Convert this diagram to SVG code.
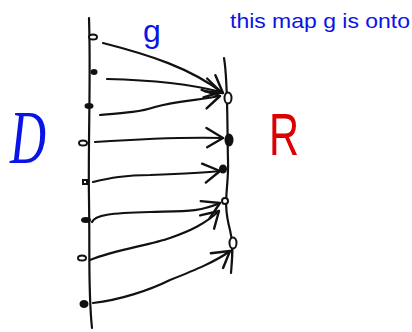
<svg xmlns="http://www.w3.org/2000/svg" width="412" height="332" viewBox="0 0 412 332">
<style>
.ink{fill:none;stroke:#111;stroke-width:2.2;stroke-linecap:round;stroke-linejoin:round}
.arr{fill:none;stroke:#111;stroke-width:2.2;stroke-linecap:round;stroke-linejoin:round;marker-end:url(#ah)}
.dot{stroke:#111;stroke-width:2}
.o{fill:#fff}
.f{fill:#111}
.blue{fill:#0a14e6;font-family:"Liberation Sans",sans-serif}
</style>
<defs>
<marker id="ah" markerUnits="userSpaceOnUse" markerWidth="24" markerHeight="24" refX="16" refY="9" orient="auto" viewBox="0 0 20 18">
<path d="M2,1 L16,9 L3,17" fill="none" stroke="#111" stroke-width="2" stroke-linecap="round" stroke-linejoin="round"/>
</marker>
</defs>
<rect width="412" height="332" fill="#fff"/>
<g id="domain">
<path class="ink" d="M89,18 C91,80 88,140 89,200 C90,260 88,290 92,328"/>
</g>
<g id="range">
<path class="ink" d="M224,58 C228,80 227,120 228,160 C229,190 222,200 230,230 C234,245 232,260 231,273"/>
</g>
<g id="connectors">
<path class="arr" d="M103,43 C150,55 190,68 223,93"/>
<path class="arr" d="M107,79 C150,80 190,84 221,92"/>
<path class="arr" d="M100,115 C125,113 140,112 155,107 C175,101 200,100 220,96"/>
<path class="arr" d="M95,142 C140,139 185,137 223,138"/>
<path class="arr" d="M93,182 C110,178 125,175 150,175 C180,174 205,173 220,171"/>
<path class="arr" d="M92,222 C95,215 110,213 150,212 C185,211 200,212 220,203"/>
<path class="arr" d="M90,260 C115,250 150,245 170,238 C190,231 205,224 219,211"/>
<path class="arr" d="M93,303 C120,300 150,290 170,280 C195,270 215,262 230,251"/>
</g>
<g id="d1"><ellipse class="dot o" cx="93" cy="37" rx="4" ry="2.5"/></g>
<g id="d2"><ellipse class="dot f" cx="94" cy="72" rx="2.5" ry="2"/></g>
<g id="d3"><ellipse class="dot f" cx="89" cy="106" rx="3.5" ry="2"/></g>
<g id="d4"><ellipse class="dot o" cx="83" cy="143" rx="4" ry="2.5"/></g>
<g id="d5"><rect class="dot o" x="83" y="180" width="4" height="4"/></g>
<g id="d6"><ellipse class="dot f" cx="86" cy="220" rx="4" ry="2"/></g>
<g id="d7"><ellipse class="dot o" cx="82" cy="258" rx="4" ry="2.5"/></g>
<g id="d8"><ellipse class="dot f" cx="84" cy="304" rx="3.5" ry="3"/></g>
<g id="r1"><ellipse class="dot o" cx="228" cy="98" rx="3.5" ry="5.5"/></g>
<g id="r2"><ellipse class="dot f" cx="229" cy="140" rx="3.5" ry="5.5"/></g>
<g id="r3"><ellipse class="dot f" cx="223" cy="169" rx="3" ry="3.5"/></g>
<g id="r4"><circle class="dot o" cx="225" cy="201" r="3"/></g>
<g id="r5"><ellipse class="dot o" cx="233" cy="243" rx="3.5" ry="5.5"/></g>
<g id="labels">
<text class="blue" x="143" y="42" font-size="32">g</text>
<text class="blue" x="230" y="28" font-size="21" textLength="180" lengthAdjust="spacingAndGlyphs">this map g is onto</text>
<text x="10" y="163" font-size="76" font-style="italic" fill="#0a14e6" font-family="'Liberation Serif',serif" textLength="36" lengthAdjust="spacingAndGlyphs">D</text>
<text x="269" y="155" font-size="60" fill="#dd0000" font-family="'Liberation Sans',sans-serif" textLength="30" lengthAdjust="spacingAndGlyphs">R</text>
</g>
</svg>
